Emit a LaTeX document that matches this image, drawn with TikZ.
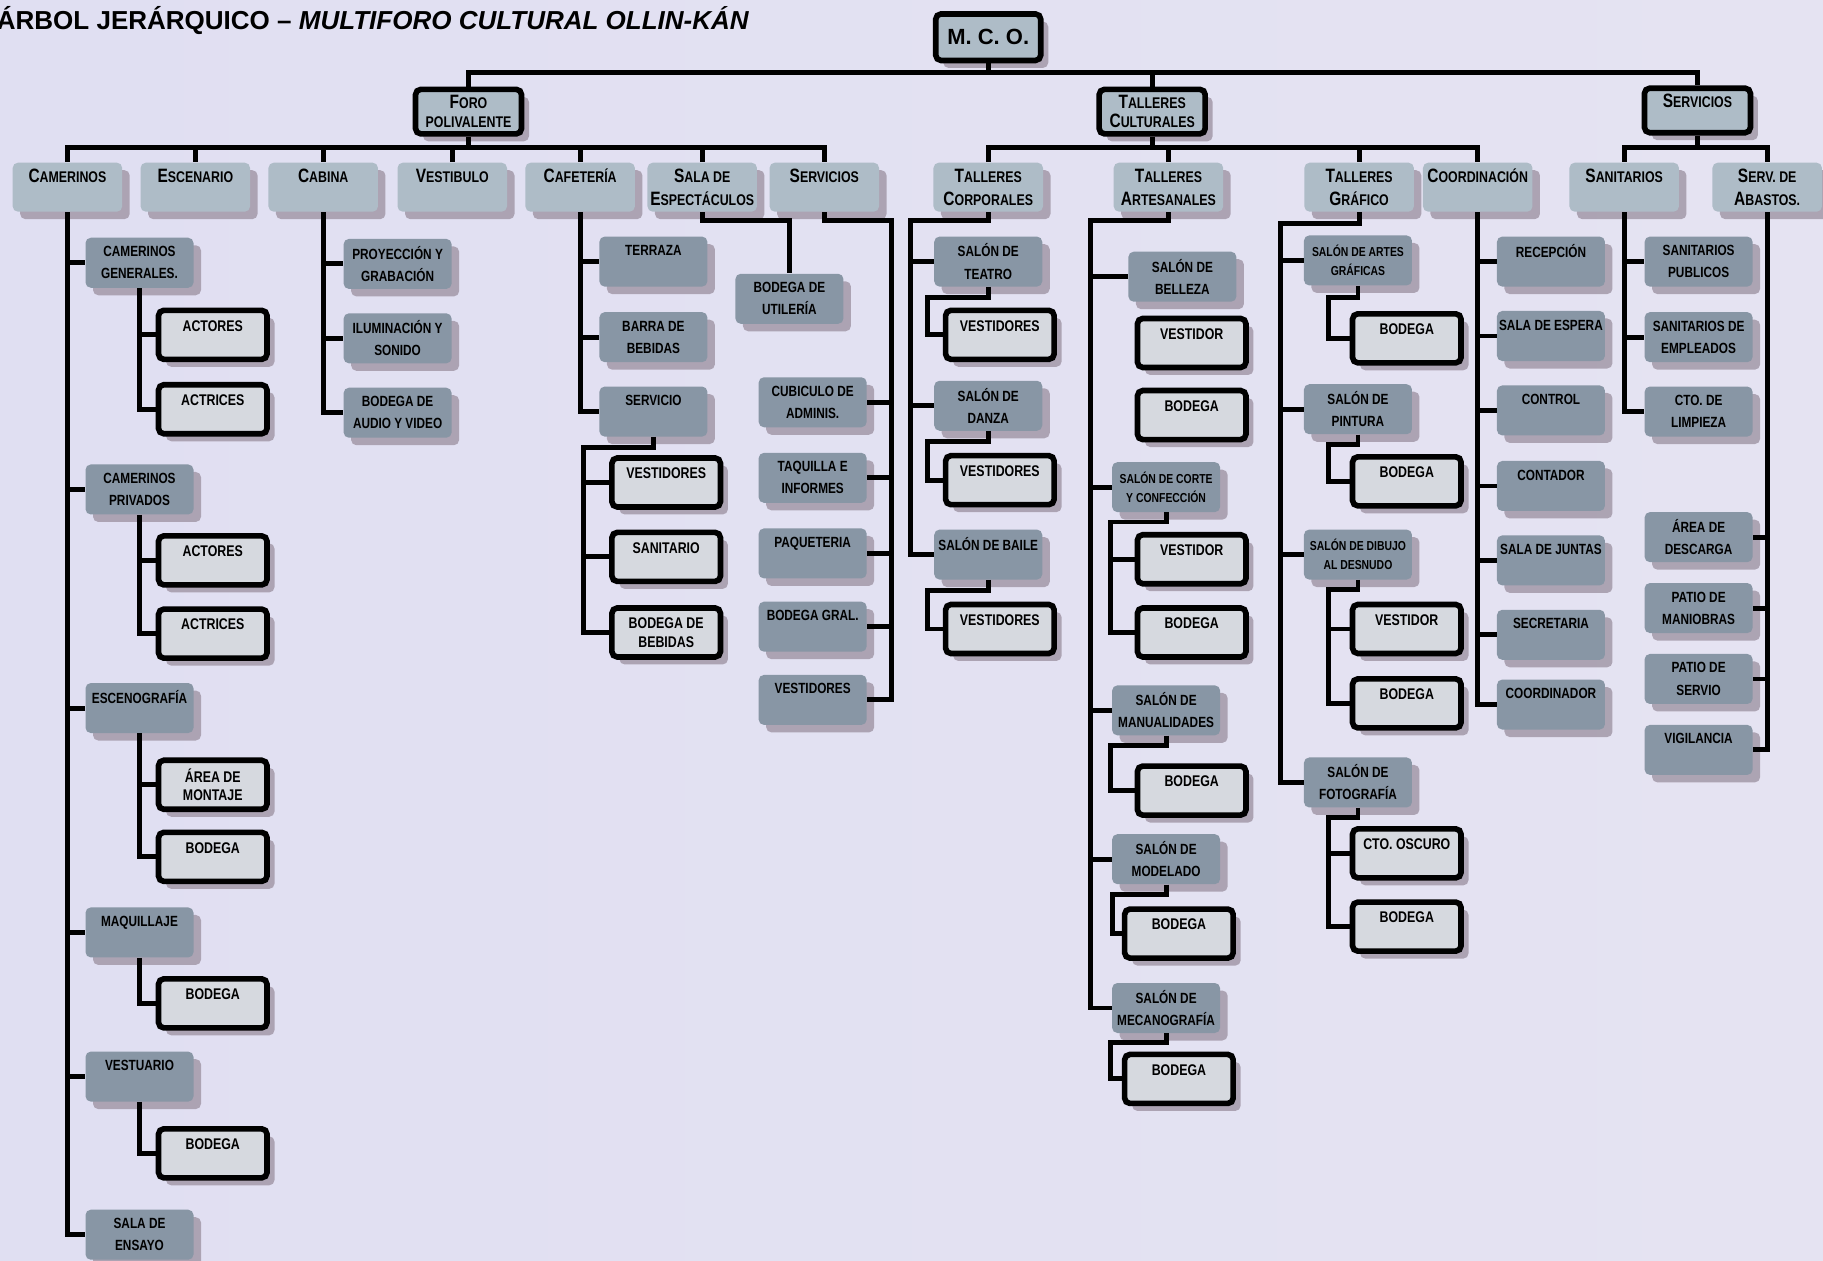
\documentclass[tikz,border=0pt]{standalone}
\usepackage{fontspec}
\setmainfont{Liberation Sans}
\newfontfamily\narrowfont{Liberation Sans}[FakeStretch=0.8]
\usetikzlibrary{positioning,shadows,backgrounds}

\definecolor{bgleft}{RGB}{224,223,242}
\definecolor{bgmid}{RGB}{239,237,240}
\definecolor{bgright}{RGB}{229,227,242}
\definecolor{grpfill}{RGB}{174,188,199}
\definecolor{roomfill}{RGB}{136,150,165}
\definecolor{subfill}{RGB}{214,217,223}
\definecolor{shadowc}{RGB}{163,153,169}

\newcommand{\sct}[2]{{\fontsize{11}{13}\selectfont #1}#2}
\newcommand{\oneline}[1]{#1\\\phantom{X}}

\tikzset{
	link/.style={line width=2.8pt},
	boxshadow/.style={drop shadow={shadow xshift=1.5mm, shadow yshift=-1.5mm, fill=shadowc, opacity=0.85}},
	mcobox/.style={draw, line width=3.2pt, rounded corners=3pt, fill=grpfill, minimum width=21mm, minimum height=9.3mm, inner sep=0pt, boxshadow, font=\bfseries\fontsize{12.5}{14}\selectfont},
	topbox/.style={draw, line width=3.2pt, rounded corners=3pt, fill=grpfill, minimum width=21.2mm, minimum height=8.9mm, inner sep=0pt, align=center, boxshadow, font=\narrowfont\bfseries\fontsize{8.8}{10.6}\selectfont},
	grpbox/.style={rounded corners=3pt, fill=grpfill, minimum width=21.9mm, minimum height=9.8mm, inner sep=0pt, align=center, boxshadow, font=\narrowfont\bfseries\fontsize{8.8}{13}\selectfont},
	roombox/.style={rounded corners=3pt, fill=roomfill, minimum width=21.6mm, minimum height=10mm, inner sep=0pt, align=center, boxshadow, font=\narrowfont\bfseries\fontsize{8.4}{12.6}\selectfont},
	smallroom/.style={roombox, font=\narrowfont\bfseries\fontsize{7.4}{11}\selectfont},
	subbox/.style={draw, line width=3.2pt, rounded corners=3pt, fill=subfill, minimum width=21.7mm, minimum height=9.8mm, inner sep=0pt, align=center, boxshadow, font=\narrowfont\bfseries\fontsize{8.8}{10.5}\selectfont},
}

\begin{document}
\begin{tikzpicture}[x=0.2325mm, y=-0.2325mm]
	\useasboundingbox (0,0) rectangle (1568,1084);
	\begin{scope}[on background layer]
		\shade[left color=bgleft, middle color=bgmid, right color=bgright] (0,0) rectangle (1568,1084);
	\end{scope}

	\node[anchor=base west, inner sep=0pt, font=\bfseries\fontsize{14.8}{17}\selectfont] (title) at (-3,25) {ÁRBOL JERÁRQUICO – \textit{MULTIFORO CULTURAL OLLIN-KÁN}};

	\node[mcobox] (mco) at (850,32) {M. C. O.};
	\node[topbox] (foro) at (403,96) {\sct{F}{ORO}\\POLIVALENTE};
	\node[topbox] (tall) at (991,96) {\sct{T}{ALLERES}\\\sct{C}{ULTURALES}};
	\node[topbox] (serv) at (1460,95) {\oneline{\sct{S}{ERVICIOS}}};

	\node[grpbox] (cam) at (58,161) {\oneline{\sct{C}{AMERINOS}}};
	\node[grpbox] (esc) at (168,161) {\oneline{\sct{E}{SCENARIO}}};
	\node[grpbox] (cab) at (278,161) {\oneline{\sct{C}{ABINA}}};
	\node[grpbox] (vest) at (389,161) {\oneline{\sct{V}{ESTIBULO}}};
	\node[grpbox] (caf) at (499,161) {\oneline{\sct{C}{AFETERÍA}}};
	\node[grpbox] (sala) at (604,161) {\sct{S}{ALA DE}\\\sct{E}{SPECTÁCULOS}};
	\node[grpbox] (fserv) at (709,161) {\oneline{\sct{S}{ERVICIOS}}};
	\node[grpbox] (tcorp) at (850,161) {\sct{T}{ALLERES}\\\sct{C}{ORPORALES}};
	\node[grpbox] (tart) at (1005,161) {\sct{T}{ALLERES}\\\sct{A}{RTESANALES}};
	\node[grpbox] (tgraf) at (1169,161) {\sct{T}{ALLERES}\\\sct{G}{RÁFICO}};
	\node[grpbox] (coord) at (1271,161) {\oneline{\sct{C}{OORDINACIÓN}}};
	\node[grpbox] (sani) at (1397,161) {\oneline{\sct{S}{ANITARIOS}}};
	\node[grpbox] (abas) at (1520,161) {\sct{S}{ERV. DE}\\\sct{A}{BASTOS.}};

	\node[roombox] (cgen) at (120,226) {CAMERINOS\\GENERALES.};
	\node[subbox] (act1) at (183,288) {\oneline{ACTORES}};
	\node[subbox] (actr1) at (183,352) {\oneline{ACTRICES}};
	\node[roombox] (cpriv) at (120,421) {CAMERINOS\\PRIVADOS};
	\node[subbox] (act2) at (183,482) {\oneline{ACTORES}};
	\node[subbox] (actr2) at (183,545) {\oneline{ACTRICES}};
	\node[roombox] (escg) at (120,609) {\oneline{ESCENOGRAFÍA}};
	\node[subbox] (mont) at (183,675) {ÁREA DE\\MONTAJE};
	\node[subbox] (bodesc) at (183,737) {\oneline{BODEGA}};
	\node[roombox] (maq) at (120,802) {\oneline{MAQUILLAJE}};
	\node[subbox] (bodmaq) at (183,863) {\oneline{BODEGA}};
	\node[roombox] (vestu) at (120,926) {\oneline{VESTUARIO}};
	\node[subbox] (bodvestu) at (183,992) {\oneline{BODEGA}};
	\node[roombox] (ensayo) at (120,1062) {SALA DE\\ENSAYO};

	\node[roombox] (proy) at (342,227) {PROYECCIÓN Y\\GRABACIÓN};
	\node[roombox] (ilum) at (342,291) {ILUMINACIÓN Y\\SONIDO};
	\node[roombox] (bodav) at (342,355) {BODEGA DE\\AUDIO Y VIDEO};

	\node[roombox] (terr) at (562,225) {\oneline{TERRAZA}};
	\node[roombox] (barra) at (562,290) {BARRA DE\\BEBIDAS};
	\node[roombox] (servi) at (562,354) {\oneline{SERVICIO}};
	\node[subbox] (vestc) at (573,415) {\oneline{VESTIDORES}};
	\node[subbox] (sanit) at (573,479) {\oneline{SANITARIO}};
	\node[subbox] (bodbeb) at (573,544) {BODEGA DE\\BEBIDAS};

	\node[roombox] (utile) at (679,257) {BODEGA DE\\UTILERÍA};

	\node[roombox] (cubic) at (699,346) {CUBICULO DE\\ADMINIS.};
	\node[roombox] (taq) at (699,411) {TAQUILLA E\\INFORMES};
	\node[roombox] (paq) at (699,476) {\oneline{PAQUETERIA}};
	\node[roombox] (bodg) at (699,539) {\oneline{BODEGA GRAL.}};
	\node[roombox] (vestf) at (699,602) {\oneline{VESTIDORES}};

	\node[roombox] (teatro) at (850,225) {SALÓN DE\\TEATRO};
	\node[subbox] (vt1) at (860,288) {\oneline{VESTIDORES}};
	\node[roombox] (danza) at (850,349) {SALÓN DE\\DANZA};
	\node[subbox] (vt2) at (860,413) {\oneline{VESTIDORES}};
	\node[roombox] (baile) at (850,477) {\oneline{SALÓN DE BAILE}};
	\node[subbox] (vt3) at (860,541) {\oneline{VESTIDORES}};

	\node[roombox] (belleza) at (1017,238) {SALÓN DE\\BELLEZA};
	\node[subbox] (vbel) at (1025,295) {\oneline{VESTIDOR}};
	\node[subbox] (bbel) at (1025,357) {\oneline{BODEGA}};
	\node[smallroom] (corte) at (1003,419) {SALÓN DE CORTE\\Y CONFECCIÓN};
	\node[subbox] (vcorte) at (1025,481) {\oneline{VESTIDOR}};
	\node[subbox] (bcorte) at (1025,544) {\oneline{BODEGA}};
	\node[roombox] (manual) at (1003,611) {SALÓN DE\\MANUALIDADES};
	\node[subbox] (bman) at (1025,680) {\oneline{BODEGA}};
	\node[roombox] (model) at (1003,739) {SALÓN DE\\MODELADO};
	\node[subbox] (bmod) at (1014,803) {\oneline{BODEGA}};
	\node[roombox] (mecan) at (1003,867) {SALÓN DE\\MECANOGRAFÍA};
	\node[subbox] (bmec) at (1014,928) {\oneline{BODEGA}};

	\node[smallroom] (artes) at (1168,224) {SALÓN DE ARTES\\GRÁFICAS};
	\node[subbox] (bart) at (1210,291) {\oneline{BODEGA}};
	\node[roombox] (pintura) at (1168,352) {SALÓN DE\\PINTURA};
	\node[subbox] (bpin) at (1210,414) {\oneline{BODEGA}};
	\node[smallroom] (dibujo) at (1168,477) {SALÓN DE DIBUJO\\AL DESNUDO};
	\node[subbox] (vdib) at (1210,541) {\oneline{VESTIDOR}};
	\node[subbox] (bdib) at (1210,605) {\oneline{BODEGA}};
	\node[roombox] (foto) at (1168,673) {SALÓN DE\\FOTOGRAFÍA};
	\node[subbox] (cto) at (1210,734) {\oneline{CTO. OSCURO}};
	\node[subbox] (bfoto) at (1210,797) {\oneline{BODEGA}};

	\node[roombox] (recep) at (1334,225) {\oneline{RECEPCIÓN}};
	\node[roombox] (espera) at (1334,289) {\oneline{SALA DE ESPERA}};
	\node[roombox] (control) at (1334,353) {\oneline{CONTROL}};
	\node[roombox] (contad) at (1334,418) {\oneline{CONTADOR}};
	\node[roombox] (juntas) at (1334,482) {\oneline{SALA DE JUNTAS}};
	\node[roombox] (secre) at (1334,546) {\oneline{SECRETARIA}};
	\node[roombox] (coordr) at (1334,606) {\oneline{COORDINADOR}};

	\node[roombox] (spub) at (1461,225) {SANITARIOS\\PUBLICOS};
	\node[roombox] (semp) at (1461,290) {SANITARIOS DE\\EMPLEADOS};
	\node[roombox] (limp) at (1461,354) {CTO. DE\\LIMPIEZA};
	\node[roombox] (desc) at (1461,462) {ÁREA DE\\DESCARGA};
	\node[roombox] (manio) at (1461,523) {PATIO DE\\MANIOBRAS};
	\node[roombox] (servio) at (1461,584) {PATIO DE\\SERVIO};
	\node[roombox] (vigil) at (1461,645) {\oneline{VIGILANCIA}};

	\coordinate (servk) at (502,385);
	\coordinate (salak) at (679,190);
	\coordinate (fservk) at (767,190);
	\coordinate (tcorpk) at (783,190);
	\coordinate (teatrok) at (798,256);
	\coordinate (danzak) at (798,380);
	\coordinate (bailek) at (798,508);
	\coordinate (tartk) at (938,190);
	\coordinate (cortek) at (955,449);
	\coordinate (manualk) at (955,641);
	\coordinate (modelk) at (957,769);
	\coordinate (mecank) at (955,897);
	\coordinate (tgrafk) at (1101,192);
	\coordinate (artesk) at (1143,256);
	\coordinate (pinturak) at (1143,382);
	\coordinate (dibujok) at (1143,507);
	\coordinate (fotok) at (1143,703);

	\draw[link] (mco.south) -- ++(0,8) coordinate (mcok);
	\draw[link] (mcok) -| (foro.north) (mcok) -| (tall.north) (mcok) -| (serv.north);
	\draw[link] (foro.south) -- ++(0,9) coordinate (forok);
	\draw[link] (forok) -| (cam.north) (forok) -| (esc.north) (forok) -| (cab.north) (forok) -| (vest.north) (forok) -| (caf.north) (forok) -| (sala.north) (forok) -| (fserv.north);
	\draw[link] (tall.south) -- ++(0,9) coordinate (tallk);
	\draw[link] (tallk) -| (tcorp.north) (tallk) -| (tart.north) (tallk) -| (tgraf.north) (tallk) -| (coord.north);
	\draw[link] (serv.south) -- ++(0,10) coordinate (servtk);
	\draw[link] (servtk) -| (sani.north) (servtk) -| (abas.north);

	\draw[link] (cam.south) |- (ensayo.west) (cam.south) |- (cgen.west) (cam.south) |- (cpriv.west) (cam.south) |- (escg.west) (cam.south) |- (maq.west) (cam.south) |- (vestu.west);
	\draw[link] (cgen.south) |- (actr1.west) (cgen.south) |- (act1.west);
	\draw[link] (cpriv.south) |- (actr2.west) (cpriv.south) |- (act2.west);
	\draw[link] (escg.south) |- (bodesc.west) (escg.south) |- (mont.west);
	\draw[link] (maq.south) |- (bodmaq.west);
	\draw[link] (vestu.south) |- (bodvestu.west);

	\draw[link] (cab.south) |- (bodav.west) (cab.south) |- (proy.west) (cab.south) |- (ilum.west);

	\draw[link] (caf.south) |- (servi.west) (caf.south) |- (terr.west) (caf.south) |- (barra.west);
	\draw[link] (servi.south) |- (servk) |- (bodbeb.west);
	\draw[link] (servk) |- (vestc.west) (servk) |- (sanit.west);

	\draw[link] (sala.south) |- (salak) -- (utile.north);

	\draw[link] (fserv.south) |- (fservk) |- (vestf.east);
	\draw[link] (fservk) |- (cubic.east) (fservk) |- (taq.east) (fservk) |- (paq.east) (fservk) |- (bodg.east);

	\draw[link] (tcorp.south) |- (tcorpk) |- (baile.west);
	\draw[link] (tcorpk) |- (teatro.west) (tcorpk) |- (danza.west);
	\draw[link] (teatro.south) |- (teatrok) |- (vt1.west);
	\draw[link] (danza.south) |- (danzak) |- (vt2.west);
	\draw[link] (baile.south) |- (bailek) |- (vt3.west);

	\draw[link] (tart.south) |- (tartk) |- (mecan.west);
	\draw[link] (tartk) |- (belleza.west) (tartk) |- (corte.west) (tartk) |- (manual.west) (tartk) |- (model.west);
	\draw[link] (corte.south) |- (cortek) |- (bcorte.west);
	\draw[link] (cortek) |- (vcorte.west);
	\draw[link] (manual.south) |- (manualk) |- (bman.west);
	\draw[link] (model.south) |- (modelk) |- (bmod.west);
	\draw[link] (mecan.south) |- (mecank) |- (bmec.west);

	\draw[link] (tgraf.south) |- (tgrafk) |- (foto.west);
	\draw[link] (tgrafk) |- (artes.west) (tgrafk) |- (pintura.west) (tgrafk) |- (dibujo.west);
	\draw[link] (artes.south) |- (artesk) |- (bart.west);
	\draw[link] (pintura.south) |- (pinturak) |- (bpin.west);
	\draw[link] (dibujo.south) |- (dibujok) |- (bdib.west);
	\draw[link] (dibujok) |- (vdib.west);
	\draw[link] (foto.south) |- (fotok) |- (bfoto.west);
	\draw[link] (fotok) |- (cto.west);

	\draw[link] (coord.south) |- (coordr.west) (coord.south) |- (recep.west) (coord.south) |- (espera.west) (coord.south) |- (control.west) (coord.south) |- (contad.west) (coord.south) |- (juntas.west) (coord.south) |- (secre.west);

	\draw[link] (sani.south) |- (limp.west) (sani.south) |- (spub.west) (sani.south) |- (semp.west);
	\draw[link] (abas.south) |- (vigil.east) (abas.south) |- (desc.east) (abas.south) |- (manio.east) (abas.south) |- (servio.east);
\end{tikzpicture}
\end{document}
